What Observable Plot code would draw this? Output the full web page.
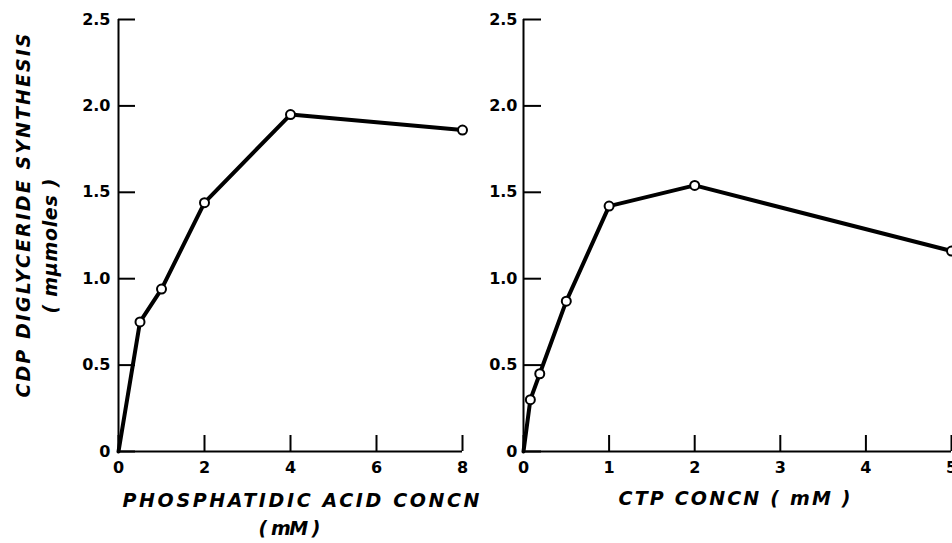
<!DOCTYPE html>
<html><head><meta charset="utf-8">
<script src="https://cdn.jsdelivr.net/npm/d3@7"></script>
<script src="https://cdn.jsdelivr.net/npm/@observablehq/plot@0.6"></script>
<style>
body{margin:0;background:#fff}
#chart{position:relative;width:952px;height:543px;overflow:hidden;background:#fff}
#chart svg{position:absolute;top:0}
</style></head><body><div id="chart"></div>
<script>
// ---- data ----
const paConc = [0, 0.5, 1, 2, 4, 8];            // mM phosphatidic acid
const paSynth = [0, 0.75, 0.94, 1.44, 1.95, 1.86];
const ctpConc = [0, 0.08, 0.19, 0.5, 1, 2, 5];  // mM CTP
const ctpSynth = [0, 0.30, 0.45, 0.87, 1.42, 1.54, 1.16];
const yTicks = [0, 0.5, 1, 1.5, 2, 2.5];
const paTicks = [0, 2, 4, 6, 8];
const ctpTicks = [0, 1, 2, 3, 4, 5];
const yTitle = "CDP DIGLYCERIDE SYNTHESIS";
const yUnit = "( mµmoles )";
const paTitle = "PHOSPHATIDIC ACID CONCN";
const paUnit = "( mM )";
const ctpTitle = "CTP CONCN ( mM )";

const paData = paConc.map((x, i) => ({x, y: paSynth[i]}));
const ctpData = ctpConc.map((x, i) => ({x, y: ctpSynth[i]}));
const yFmt = d => d === 0 ? "0" : d.toFixed(1);

const titleFont = {fontSize: 19, fontStyle: "italic", fontWeight: "bold", fill: "black", textAnchor: "middle"};
const textLengths = {
  [yTitle]: 364, [yUnit]: 135, [paTitle]: 357, [paUnit]: 62, [ctpTitle]: 232
};

function panel({data, xDomain, xTicks, width, marginLeft, marginRight, yTickSize, yPad, titles}) {
  return Plot.plot({
    width, height: 543,
    marginLeft, marginRight, marginTop: 19, marginBottom: 92,
    style: {fontFamily: "DejaVu Sans", fontSize: "16px", background: "transparent", color: "black", overflow: "visible"},
    x: {domain: xDomain, ticks: xTicks},
    y: {domain: [0, 2.5], ticks: yTicks},
    marks: [
      Plot.axisY({ticks: yTicks, tickSize: yTickSize, tickPadding: -yTickSize + yPad, tickFormat: yFmt, strokeWidth: 2, fontSize: 16, fontWeight: "bold", label: null}),
      Plot.axisX({ticks: xTicks, tickSize: -16, tickPadding: 26, tickFormat: d => String(d), strokeWidth: 2, fontSize: 16, fontWeight: "bold", label: null}),
      Plot.ruleX([0], {strokeWidth: 2}),
      Plot.ruleY([0], {strokeWidth: 2}),
      Plot.line(data, {x: "x", y: "y", stroke: "black", strokeWidth: 4, strokeLinejoin: "round"}),
      Plot.dot(data, {x: "x", y: "y", filter: d => d.x > 0, r: 4.5, fill: "white", stroke: "black", strokeWidth: 2}),
      ...titles.map(t => Plot.text([t.text], {text: d => d, frameAnchor: t.anchor, rotate: t.rotate || 0, dx: t.dx, dy: t.dy, ...titleFont}))
    ]
  });
}

const left = panel({
  data: paData, xDomain: [0, 8], xTicks: paTicks, width: 480, marginLeft: 118, marginRight: 18,
  yTickSize: -17, yPad: 8,
  titles: [
    {text: yTitle, anchor: "left", rotate: -90, dx: -95, dy: -20},
    {text: yUnit, anchor: "left", rotate: -90, dx: -68, dy: 10.5},
    {text: paTitle, anchor: "bottom", dx: 10.5, dy: 55},
    {text: paUnit, anchor: "bottom", dx: -1, dy: 83}
  ]
});
const right = panel({
  data: ctpData, xDomain: [0, 5], xTicks: ctpTicks, width: 472, marginLeft: 43, marginRight: 1,
  yTickSize: -18, yPad: 6,
  titles: [
    {text: ctpTitle, anchor: "bottom", dx: -3, dy: 53}
  ]
});
left.style.left = "0px";
right.style.left = "480px";
const chart = document.getElementById("chart");
chart.append(left, right);

d3.select(chart).selectAll("text").each(function () {
  const L = textLengths[this.textContent];
  if (L) { this.setAttribute("textLength", L); this.setAttribute("lengthAdjust", "spacing"); }
  else { this.style.fontSize = "16px"; this.style.fontWeight = "bold"; }
});
</script></body></html>
